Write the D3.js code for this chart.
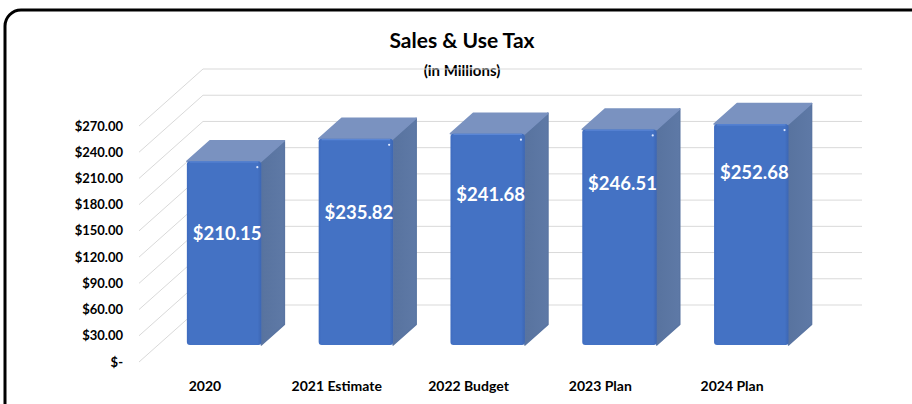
<!DOCTYPE html>
<html>
<head>
<meta charset="utf-8">
<script src="https://cdn.jsdelivr.net/npm/d3@7/dist/d3.min.js"></script>
<style>
  html, body { margin: 0; padding: 0; background: #fff; }
  svg { display: block; }
  text { font-family: Lato, "Open Sans", sans-serif; font-weight: 700; }
</style>
</head>
<body>
<svg id="chart" width="912" height="404"></svg>
<script>
// Sales & Use Tax, in millions of dollars
const categories = ["2020", "2021 Estimate", "2022 Budget", "2023 Plan", "2024 Plan"];
const salesUseTax = [210.15, 235.82, 241.68, 246.51, 252.68];
const tickValues = [0, 30, 60, 90, 120, 150, 180, 210, 240, 270];
const tickLabels = ["$-", "$30.00", "$60.00", "$90.00", "$120.00", "$150.00", "$180.00", "$210.00", "$240.00", "$270.00"];

// Layout: where each value label sits, as a share of its column height
const labelHeightShare = [0.604, 0.643, 0.712, 0.750, 0.781];

const svg = d3.select("#chart");
const W = 912, H = 404;

// 3D frame: front plane and the depth vector to the back wall
const depth = { dx: 64, dy: -57 };
const x = d3.scaleBand().domain(categories).range([139, 798])
  .paddingInner(0.435).paddingOuter(0.2175);
const y = d3.scaleLinear().domain([0, 270]).range([362, 126]);
const proj = (px, v, z) => [px + z * depth.dx, y(v) + z * depth.dy];
const zFront = 0.30, zBack = 0.66;

// chart area frame
svg.append("rect").attr("x", 5).attr("y", 10).attr("width", 940).attr("height", 430)
  .attr("rx", 16).attr("fill", "#fff").attr("stroke", "#000").attr("stroke-width", 3);

// titles
svg.append("text").attr("x", 462).attr("y", 41).attr("dy", "0.35em")
  .attr("text-anchor", "middle").attr("font-size", 21).attr("fill", "#000")
  .text("Sales & Use Tax");
svg.append("text").attr("x", 462).attr("y", 71).attr("dy", "0.35em")
  .attr("text-anchor", "middle").attr("font-size", 15).attr("fill", "#000")
  .text("(in Millions)");

// gridlines: side wall diagonals and back wall horizontals
const line = d3.line();
const grid = svg.append("g").attr("fill", "none").attr("stroke", "#d9d9d9").attr("stroke-width", 1);
tickValues.forEach(v => {
  const x0 = x.range()[0], x1 = x.range()[1];
  grid.append("path").attr("d", line([proj(x0, v, 0), proj(x0, v, 1), proj(x1, v, 1)]));
});

// value axis labels
svg.append("g").selectAll("text").data(tickValues).join("text")
  .attr("x", 123).attr("y", d => y(d)).attr("dy", "0.35em")
  .attr("text-anchor", "end").attr("font-size", 13).attr("fill", "#000")
  .text((d, i) => tickLabels[i]);

// category labels
svg.append("g").selectAll("text").data(categories).join("text")
  .attr("x", d => x(d) + x.bandwidth() / 2).attr("y", 386).attr("dy", "0.35em")
  .attr("text-anchor", "middle").attr("font-size", 14).attr("fill", "#000")
  .text(d => d);

// gradients for gentle bevel shading
const defs = svg.append("defs");
const gFront = defs.append("linearGradient").attr("id", "gFront").attr("x1", 0).attr("x2", 1).attr("y1", 0).attr("y2", 0);
gFront.append("stop").attr("offset", 0).attr("stop-color", "#3f6cbf");
gFront.append("stop").attr("offset", 0.04).attr("stop-color", "#4472c4");
gFront.append("stop").attr("offset", 0.95).attr("stop-color", "#4472c4");
gFront.append("stop").attr("offset", 1).attr("stop-color", "#3c66b3");
const gSide = defs.append("linearGradient").attr("id", "gSide").attr("x1", 0).attr("x2", 1).attr("y1", 0).attr("y2", 0);
gSide.append("stop").attr("offset", 0).attr("stop-color", "#58739f");
gSide.append("stop").attr("offset", 1).attr("stop-color", "#5e79a6");

// columns
const bars = svg.append("g").selectAll("g").data(salesUseTax).join("g");
bars.each(function (v, i) {
  const g = d3.select(this);
  const xa = x(categories[i]), xb = xa + x.bandwidth();
  const side = [proj(xb, v, zFront), proj(xb, v, zBack), proj(xb, 0, zBack), proj(xb, 0, zFront)];
  const top = [proj(xa, v, zFront), proj(xb, v, zFront), proj(xb, v, zBack), proj(xa, v, zBack)];
  g.append("path").attr("d", line(side) + "Z").attr("fill", "url(#gSide)")
    .attr("stroke", "#5a75a2").attr("stroke-width", 1.5).attr("stroke-linejoin", "round");
  g.append("path").attr("d", line(top) + "Z").attr("fill", "#7a92c0")
    .attr("stroke", "#7a92c0").attr("stroke-width", 1.5).attr("stroke-linejoin", "round");
  const [fx, fy] = proj(xa, v, zFront);
  const [, fy0] = proj(xa, 0, zFront);
  g.append("rect").attr("x", fx).attr("y", fy).attr("width", x.bandwidth()).attr("height", fy0 - fy)
    .attr("rx", 3).attr("fill", "url(#gFront)");
  // highlight line along the top edge of the front face
  g.append("path").attr("d", line([[fx + 3, fy + 0.8], [fx + x.bandwidth() - 3, fy + 0.8]]))
    .attr("stroke", "#5a86d6").attr("stroke-width", 1.2);
  g.append("circle").attr("cx", fx + x.bandwidth() - 4).attr("cy", fy + 6).attr("r", 1.1)
    .attr("fill", "#dfe9ff");
  // value label
  const [lx, ly] = proj(xa + x.bandwidth() / 2, v * labelHeightShare[i], zFront);
  g.append("text").attr("x", lx + 3).attr("y", ly).attr("dy", "0.35em")
    .attr("text-anchor", "middle").attr("font-size", 18.5).attr("fill", "#fff")
    .text("$" + d3.format(".2f")(v));
});
</script>
</body>
</html>
